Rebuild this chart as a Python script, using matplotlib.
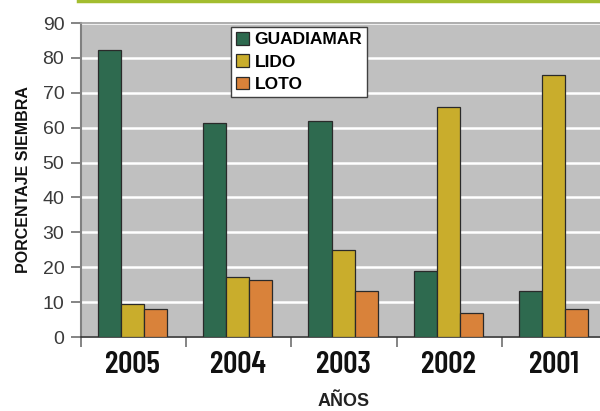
import numpy as np
import matplotlib.pyplot as plt
from matplotlib.lines import Line2D

# Datos
anos = ['2005', '2004', '2003', '2002', '2001']
guadiamar = [82.3, 61.2, 61.8, 19.0, 13.2]
lido = [9.5, 17.3, 24.9, 66.0, 75.0]
loto = [7.9, 16.4, 13.2, 6.8, 7.9]

series = ['GUADIAMAR', 'LIDO', 'LOTO']
colores = ['#2e6a4f', '#c9ad2c', '#d9823a']

fig = plt.figure(figsize=(6, 4.11), dpi=100)
ax = fig.add_axes([0.135, 0.18, 0.877, 0.764])
ax.set_facecolor('#c0c0c0')

x = np.arange(len(anos)) + 0.49
ancho = 0.219
for k, (vals, nombre, col) in enumerate(zip([guadiamar, lido, loto], series, colores)):
    ax.bar(x + (k - 1) * ancho, vals, ancho, color=col, edgecolor='#2a2a2a',
           linewidth=0.9, label=nombre, zorder=3)

ax.set_xlim(0, len(anos))
ax.set_ylim(0, 90)
ax.set_yticks(np.arange(0, 91, 10))
ax.yaxis.grid(True, color='white', linewidth=1.8, zorder=1)
ax.set_axisbelow(True)

ax.set_xticks(x)
ax.set_xticklabels(anos, family=['Barlow Condensed', 'DejaVu Sans'],
                   fontweight='semibold', fontsize=22.5, color='#111111')
ax.set_xticks(np.arange(0, len(anos) + 1), minor=True)
ax.tick_params(axis='x', which='major', length=0, pad=10)
ax.tick_params(axis='x', which='minor', length=7, width=1.2, color='#707070')
ax.tick_params(axis='y', length=7, width=1.2, color='#707070', labelsize=14,
               labelcolor='#3a3a3a', pad=5)
for lbl in ax.get_yticklabels():
    lbl.set_family('Liberation Sans')

ax.spines['left'].set_color('#808080')
ax.spines['left'].set_linewidth(1.5)
ax.spines['bottom'].set_color('#333333')
ax.spines['bottom'].set_linewidth(1.2)
ax.spines['top'].set_color('#a0a0a0')
ax.spines['top'].set_linewidth(1.2)
ax.spines['right'].set_visible(False)

ax.set_ylabel('PORCENTAJE SIEMBRA', family='Liberation Sans', fontweight='bold',
              fontsize=11.5, color='#111111', labelpad=8)
ax.set_xlabel('AÑOS', family='Liberation Sans', fontweight='bold',
              fontsize=13, color='#222222', labelpad=10)

leg = ax.legend(loc='upper left', bbox_to_anchor=(0.285, 0.988), frameon=True,
                fancybox=False, edgecolor='#404040', framealpha=1,
                prop={'family': 'Liberation Sans', 'weight': 'bold', 'size': 12.5},
                handlelength=0.75, handleheight=0.75, handletextpad=0.3,
                labelspacing=0.4, borderpad=0.3, borderaxespad=0)
leg.get_frame().set_linewidth(1.0)

# linea verde superior
fig.add_artist(Line2D([0.13, 1.0], [0.997, 0.997], transform=fig.transFigure,
                      color='#a3bd2f', linewidth=2.5))

fig.savefig('out.png', dpi=100)
